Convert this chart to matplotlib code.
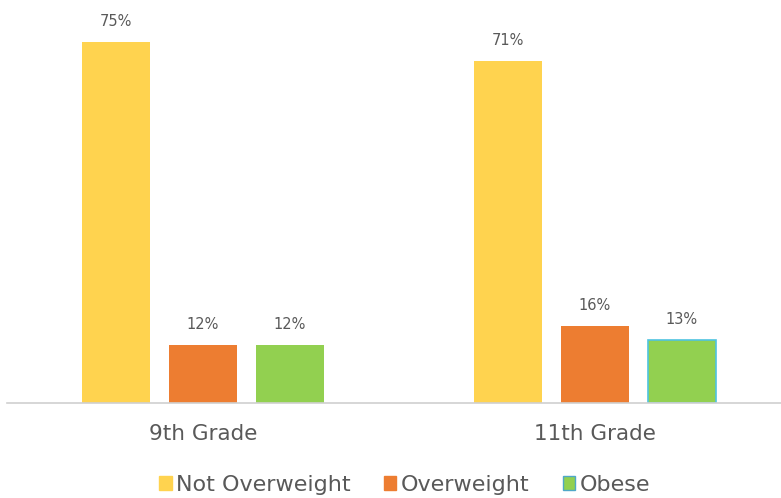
import numpy as np
import matplotlib.pyplot as plt
from matplotlib.patches import Patch

grades = ["9th Grade", "11th Grade"]
series = ["Not Overweight", "Overweight", "Obese"]
not_overweight = [75, 71]
overweight = [12, 16]
obese = [12, 13]
colors = ["#FFD34F", "#ED7D31", "#92D050"]

fig = plt.figure(figsize=(7.81, 4.98), dpi=100)
ax = fig.add_axes([0.009, 0.1908, 0.991, 0.7731])

x = np.arange(len(grades))
step = 0.222
width = 0.173
text_color = "#595959"

for i, (vals, col) in enumerate(zip([not_overweight, overweight, obese], colors)):
    pos = x + (i - 1) * step
    bars = ax.bar(pos, vals, width=width, color=col, zorder=2)
    for b, v in zip(bars, vals):
        ax.text(b.get_x() + b.get_width() / 2, v + 2.8, f"{v}%", ha="center",
                va="bottom", fontsize=10.5, color=text_color, clip_on=False)

# the 11th grade obese bar has a thin blue outline in the original
ax.patches[-1].set_edgecolor("#4FC3E0")
ax.patches[-1].set_linewidth(1.2)

ax.set_xlim(-0.5, 1.475)
ax.set_ylim(0, 80)
ax.set_yticks([])
ax.set_xticks(x)
ax.set_xticklabels(grades, fontsize=15.5, color=text_color)
ax.tick_params(axis="x", length=0, pad=15)
for s in ["top", "right", "left"]:
    ax.spines[s].set_visible(False)
ax.spines["bottom"].set_color("#D0D0D0")
ax.spines["bottom"].set_linewidth(1.2)

handles = [Patch(facecolor=c, edgecolor=c) for c in colors]
handles[2] = Patch(facecolor=colors[2], edgecolor="#4FA8C8")
fig.legend(handles, series, loc="center", bbox_to_anchor=(0.518, 0.026), ncol=3,
           frameon=False, fontsize=16, handlelength=0.55, handleheight=0.55,
           handletextpad=0.2, columnspacing=1.5, labelcolor=text_color)

fig.savefig("out.png", dpi=100)
